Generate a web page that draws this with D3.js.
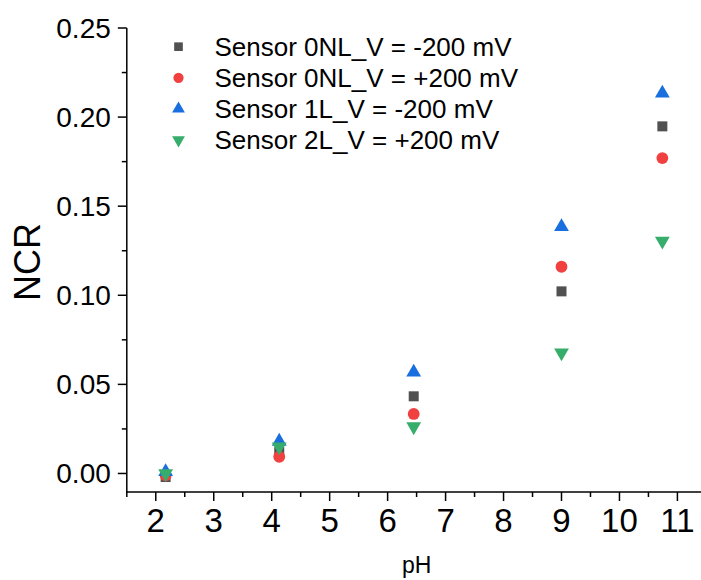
<!DOCTYPE html>
<html>
<head>
<meta charset="utf-8">
<script src="https://cdn.jsdelivr.net/npm/d3@7"></script>
<style>
  body { margin: 0; background: #fff; }
  text { font-family: "Liberation Sans", Arial, sans-serif; }
</style>
</head>
<body>
<div id="chart"></div>
<script>
// data
var phValues = [2.17, 4.13, 6.45, 9.0, 10.74];
var seriesNames = ["Sensor 0NL_V = -200 mV", "Sensor 0NL_V = +200 mV", "Sensor 1L_V = -200 mV", "Sensor 2L_V = +200 mV"];
var sensor0NLneg = [-0.002, 0.012, 0.0433, 0.1022, 0.1948];
var sensor0NLpos = [-0.001, 0.0094, 0.0334, 0.116, 0.177];
var sensor1Lneg = [0.001, 0.018, 0.0568, 0.1385, 0.2134];
var sensor2Lpos = [0.0, 0.015, 0.0263, 0.0678, 0.1305];
var xTicks = [2, 3, 4, 5, 6, 7, 8, 9, 10, 11];
var yTicks = [0.00, 0.05, 0.10, 0.15, 0.20, 0.25];

var colors = ["#515151", "#F14040", "#1A6FDF", "#37AD6B"];
var symbols = [d3.symbolSquare, d3.symbolCircle, d3.symbolTriangle, d3.symbolTriangle];
var symSize = [100, 110, 95, 95];
var flip = [false, false, false, true];
var allSeries = [sensor0NLneg, sensor0NLpos, sensor1Lneg, sensor2Lpos];

var W = 701, H = 580;
var svg = d3.select("#chart").append("svg")
  .attr("width", W).attr("height", H);

var x = d3.scaleLinear().domain([1.5, 11.5]).range([126.8, 706.4]);
var y = d3.scaleLinear().domain([-0.0104, 0.25]).range([492, 28]);

// x axis
var gx = svg.append("g").attr("transform", "translate(0,492)");
gx.append("line").attr("x1", x(1.5)).attr("x2", W).attr("stroke", "#000").attr("stroke-width", 1.5);
gx.selectAll(".minor").data(d3.range(1.5, 11.6, 0.5).filter(function (d) { return d % 1 !== 0; }))
  .enter().append("line")
  .attr("x1", function (d) { return x(d); }).attr("x2", function (d) { return x(d); })
  .attr("y1", 0).attr("y2", 5).attr("stroke", "#000").attr("stroke-width", 1.5);
gx.selectAll(".major").data(xTicks).enter().append("line")
  .attr("x1", function (d) { return x(d); }).attr("x2", function (d) { return x(d); })
  .attr("y1", 0).attr("y2", 9).attr("stroke", "#000").attr("stroke-width", 1.5);
gx.selectAll(".lbl").data(xTicks).enter().append("text")
  .attr("x", function (d) { return x(d); }).attr("y", 39.7)
  .attr("text-anchor", "middle").attr("font-size", 33).text(function (d) { return d; });

// y axis
var gy = svg.append("g").attr("transform", "translate(126.8,0)");
gy.append("line").attr("y1", y(0.25)).attr("y2", 492.7).attr("stroke", "#000").attr("stroke-width", 1.5);
gy.selectAll(".minor").data([0.025, 0.075, 0.125, 0.175, 0.225]).enter().append("line")
  .attr("y1", function (d) { return y(d); }).attr("y2", function (d) { return y(d); })
  .attr("x1", 0).attr("x2", -5).attr("stroke", "#000").attr("stroke-width", 1.5);
gy.selectAll(".major").data(yTicks).enter().append("line")
  .attr("y1", function (d) { return y(d); }).attr("y2", function (d) { return y(d); })
  .attr("x1", 0).attr("x2", -9).attr("stroke", "#000").attr("stroke-width", 1.5);
gy.selectAll(".lbl").data(yTicks).enter().append("text")
  .attr("x", -16).attr("y", function (d) { return y(d) + 9.5; })
  .attr("text-anchor", "end").attr("font-size", 28).text(function (d) { return d.toFixed(2); });

// axis titles
svg.append("text").attr("transform", "translate(39.5,262) rotate(-90)")
  .attr("text-anchor", "middle").attr("font-size", 36).text("NCR");
svg.append("text").attr("x", 416.7).attr("y", 573.3)
  .attr("text-anchor", "middle").attr("font-size", 23).text("pH");

// points
allSeries.forEach(function (vals, i) {
  svg.append("g").selectAll("path").data(vals).enter().append("path")
    .attr("d", d3.symbol().type(symbols[i]).size(symSize[i]))
    .attr("transform", function (d, j) {
      return "translate(" + x(phValues[j]) + "," + y(d) + ")" + (flip[i] ? " rotate(180)" : "");
    })
    .attr("fill", colors[i]);
});

// legend
var leg = svg.append("g");
seriesNames.forEach(function (name, i) {
  var ly = 46.7 + i * 31.1;
  leg.append("path")
    .attr("d", d3.symbol().type(symbols[i]).size(symSize[i] * 0.75))
    .attr("transform", "translate(178.5," + ly + ")" + (flip[i] ? " rotate(180)" : ""))
    .attr("fill", colors[i]);
  leg.append("text").attr("x", 214.5).attr("y", ly + 9.3)
    .attr("font-size", 26).text(name);
});
</script>
</body>
</html>
